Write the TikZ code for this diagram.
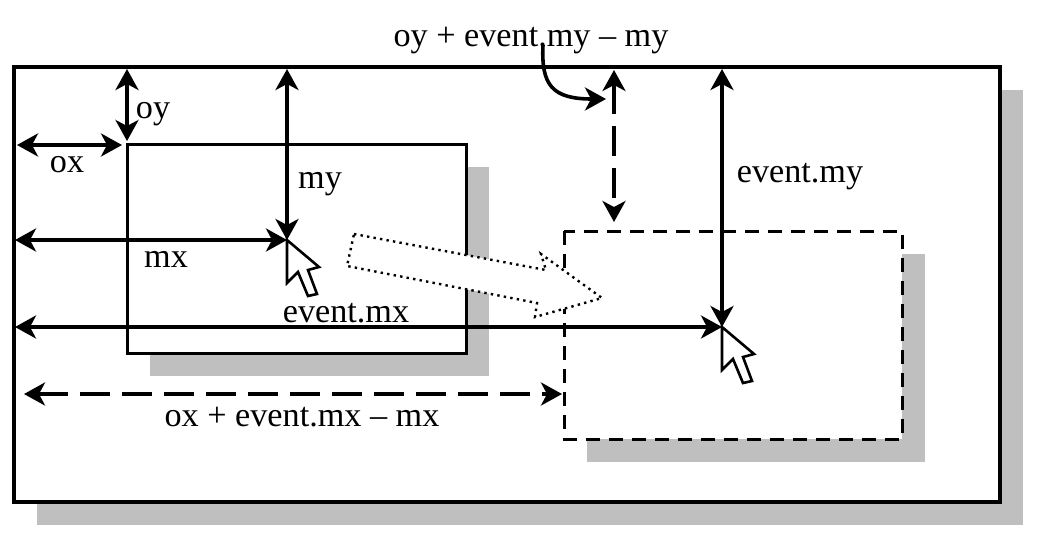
\documentclass[tikz,border=0pt]{standalone}
\usepackage{fontspec}
\setmainfont{Liberation Serif}
\usetikzlibrary{arrows.meta, positioning}

\tikzset{
    frame/.style={draw=black,fill=white,line width=3pt},
    shadowbox/.style={fill=black!25},
    measure/.style={line width=3.6pt,{Stealth[length=21pt,width=23pt,inset=6pt]}-{Stealth[length=21pt,width=23pt,inset=6pt]}},
    label/.style={font=\fontsize{34.2}{36}\selectfont,inner sep=0pt},
    pointer/.style={draw=black,fill=white,line width=2.6pt},
}

\begin{document}
\begin{tikzpicture}[x=1pt,y=-1pt]
    \useasboundingbox (0,0) rectangle (1051,536);
    % shadows and windows
    \fill[shadowbox] (37,90) rectangle (1023,525);
    \draw[frame,line width=4pt] (14,67) rectangle (1000,502);
    \fill[shadowbox] (150,167) rectangle (489,376);
    \draw[frame] (127,144) rectangle (466,353);
    \fill[shadowbox] (587,254) rectangle (925,462);
    \draw[frame,dash pattern=on 14pt off 9pt] (564,231) rectangle (902,439);
    % hollow arrow
    \draw[fill=white,draw=black,line width=2.4pt,dash pattern=on 2.4pt off 4.2pt]
        (354,234) -- (546,270) -- (541,254) -- (602,298) -- (535,317) -- (537,303) -- (347,266) -- cycle;
    % mouse pointers
    \coordinate (tipA) at (287,240);
    \coordinate (tipB) at (722,327);
    \foreach \tip in {tipA,tipB}
        \draw[pointer,shift={(\tip)}] (0,0) -- (0,43) -- (11,32) -- (21,56) -- (30,54) -- (21,30) -- (32,27) -- cycle;
    % measures
    \coordinate (oyA) at (127,69);
    \coordinate (oyB) at (127,141);
    \coordinate (oxA) at (17,145);
    \coordinate (oxB) at (122,145);
    \coordinate (myA) at (287,69);
    \coordinate (mxA) at (15,240);
    \coordinate (emxA) at (15,327);
    \coordinate (emyA) at (722,69);
    \coordinate (dmxA) at (24,394);
    \coordinate (dmxB) at (562,394);
    \coordinate (dmyA) at (614,70);
    \coordinate (dmyB) at (614,222);
    \draw[measure] (oyA) -- (oyB);
    \draw[measure] (oxA) -- (oxB);
    \draw[measure] (myA) -- (tipA);
    \draw[measure] (mxA) -- (tipA);
    \draw[measure] (emxA) -- (tipB);
    \draw[measure] (emyA) -- (tipB);
    \draw[measure,dash pattern=on 30pt off 12pt] (dmxA) -- (dmxB);
    \draw[measure,dash pattern=on 30pt off 12pt] (dmyA) -- (dmyB);
    % labels
    \node[label] (oxL) at (67,165) {ox};
    \node[label] (oyL) at (153,114) {oy};
    \node[label] (myL) at (320,184) {my};
    \node[label] (mxL) at (166,259) {mx};
    \node[label] (emxL) at (346,313) {event.mx};
    \node[label] (emyL) at (800,177) {event.my};
    \node[label] (dmxL) at (302,417) {ox + event.mx -- mx};
    \node[label] (dmyL) at (531,41) {oy + event.my -- my};
    \coordinate (bendA) at (543,45);
    \coordinate (bendB) at (606,99);
    \draw[line width=3.6pt,-{Stealth[length=21pt,width=23pt,inset=6pt]}] (bendA) .. controls (541,85) and (552,99) .. (bendB);
\end{tikzpicture}
\end{document}
